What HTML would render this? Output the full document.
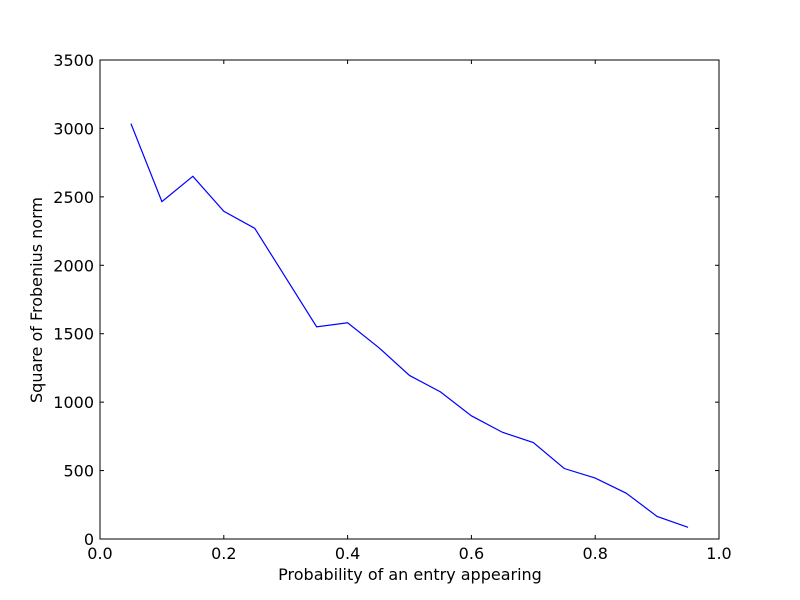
<!DOCTYPE html>
<html><head><meta charset="utf-8"><style>
html,body{margin:0;padding:0;background:#fff}
svg{display:block;font-family:"DejaVu Sans","Liberation Sans",sans-serif}
</style></head><body>
<svg id="chart" width="800" height="600">
<rect x="0" y="0" width="800" height="600" fill="#fff"/>
<g id="ticks"></g>
<path id="series" fill="none" stroke="#0000ff" stroke-width="1.2"/>
<rect x="100" y="60" width="619" height="479" fill="none" stroke="#000" stroke-width="1"/>
<text x="410" y="580" font-size="16" text-anchor="middle">Probability of an entry appearing</text>
<text transform="translate(42,300) rotate(-90)" font-size="16" text-anchor="middle">Square of Frobenius norm</text>
</svg>
<script>
const xValues=[0.05,0.10,0.15,0.20,0.25,0.30,0.35,0.40,0.45,0.50,0.55,0.60,0.65,0.70,0.75,0.80,0.85,0.90,0.95];
const yValues=[3035,2465,2650,2395,2270,1910,1550,1580,1400,1195,1075,900,780,705,515,445,335,165,85];
const xTicks=[0,0.2,0.4,0.6,0.8,1.0];
const xTickLabels=["0.0","0.2","0.4","0.6","0.8","1.0"];
const yTicks=[0,500,1000,1500,2000,2500,3000,3500];
const yTickLabels=["0","500","1000","1500","2000","2500","3000","3500"];
const L=100,R=719,T=60,B=539;
function sx(v){return L+(v-0)/(1-0)*(R-L);}
function sy(v){return B-(v-0)/(3500-0)*(B-T);}
const NS="http://www.w3.org/2000/svg";
const g=document.getElementById('ticks');
function line(x1,y1,x2,y2){const l=document.createElementNS(NS,'line');l.setAttribute('x1',x1);l.setAttribute('y1',y1);l.setAttribute('x2',x2);l.setAttribute('y2',y2);l.setAttribute('stroke','#000');l.setAttribute('stroke-width','1');


g.appendChild(l);}
function text(x,y,s,anchor,name){const t=document.createElementNS(NS,'text');t.setAttribute('x',x);t.setAttribute('y',y);t.setAttribute('font-size','16');t.setAttribute('text-anchor',anchor);t.textContent=s;


g.appendChild(t);}
xTicks.forEach((v,i)=>{const x=sx(v);line(x,B,x,B-4);line(x,T,x,T+4);text(x,B+20,xTickLabels[i],'middle','x-tick-label');});
yTicks.forEach((v,i)=>{const y=sy(v);line(L,y,L+4,y);line(R,y,R-4,y);text(L-6,y+6,yTickLabels[i],'end','y-tick-label');});
document.getElementById('series').setAttribute('d',xValues.map((v,i)=>(i?'L':'M')+sx(v).toFixed(2)+' '+sy(yValues[i]).toFixed(2)).join(' '));
</script>
</body></html>
